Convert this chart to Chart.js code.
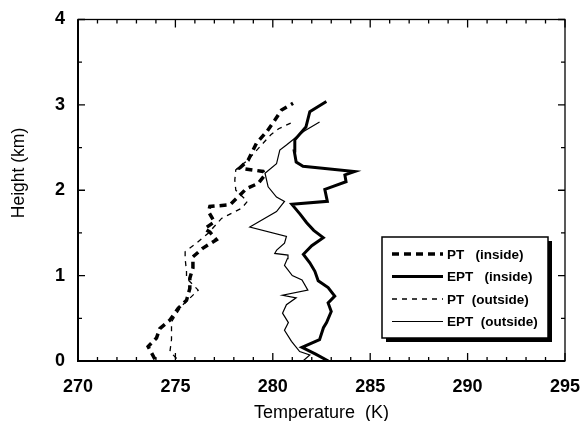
<!DOCTYPE html>
<html>
<head>
<meta charset="utf-8">
<script src="https://cdn.jsdelivr.net/npm/chart.js@4/dist/chart.umd.min.js"></script>
<style>
  body { margin: 0; background: #fff; }
  #wrap { width: 588px; height: 421px; }
</style>
</head>
<body>
<div id="wrap"><canvas id="profile" width="588" height="421"></canvas></div>
<script>
// Axis ranges / tick labels
var tempTicks = [270, 275, 280, 285, 290, 295];
var heightTicks = [0, 1, 2, 3, 4];

// PT (inside) - thick dashed
var ptInH = [0.02, 0.17, 0.27, 0.38, 0.48, 0.62, 0.71, 0.85, 0.97, 1.09, 1.22, 1.32, 1.42, 1.51, 1.55, 1.63, 1.75, 1.81, 1.83, 1.94, 2.02, 2.08, 2.18, 2.22, 2.26, 2.35, 2.43, 2.55, 2.69, 2.82, 2.94, 3.02];
var ptInT = [273.95, 273.6, 274.03, 274.2, 274.72, 275.15, 275.57, 275.74, 275.74, 275.9, 275.9, 276.4, 277.1, 276.77, 276.5, 277.0, 276.7, 276.77, 277.8, 278.3, 278.65, 279.25, 279.6, 279.5, 278.3, 278.73, 278.9, 279.16, 279.7, 280.1, 280.45, 281.04];

// EPT (inside) - thick solid
var eptInH = [0.0, 0.08, 0.16, 0.25, 0.39, 0.45, 0.58, 0.68, 0.76, 0.86, 0.94, 1.05, 1.15, 1.25, 1.35, 1.445, 1.53, 1.62, 1.72, 1.835, 1.87, 2.01, 2.1, 2.18, 2.22, 2.28, 2.33, 2.46, 2.59, 2.74, 2.92, 3.04];
var eptInT = [282.85, 282.2, 281.5, 282.4, 282.6, 282.76, 283.0, 282.84, 283.18, 282.84, 282.33, 282.16, 281.9, 281.57, 282.0, 282.59, 282.1, 281.74, 281.4, 280.98, 282.8, 282.67, 283.76, 283.7, 284.2, 281.55, 281.2, 281.1, 281.13, 281.7, 281.9, 282.75];

// PT (outside) - thin dashed
var ptOutH = [0.03, 0.11, 0.25, 0.46, 0.64, 0.83, 0.97, 1.05, 1.2, 1.28, 1.38, 1.5, 1.67, 1.79, 1.87, 2.0, 2.12, 2.24, 2.35, 2.45, 2.55, 2.65, 2.72, 2.8];
var ptOutT = [275.06, 274.72, 274.8, 274.8, 275.3, 276.17, 275.57, 275.57, 275.5, 275.5, 276.08, 276.7, 277.37, 278.4, 278.7, 278.1, 278.05, 278.1, 278.7, 279.1, 279.5, 279.9, 280.3, 281.04];

// EPT (outside) - thin solid
var eptOutH = [0.0, 0.07, 0.11, 0.23, 0.36, 0.45, 0.56, 0.66, 0.74, 0.77, 0.83, 0.95, 1.0, 1.12, 1.2, 1.24, 1.26, 1.3, 1.38, 1.46, 1.57, 1.75, 1.87, 1.92, 2.04, 2.2, 2.31, 2.47, 2.53, 2.61, 2.69, 2.8];
var eptOutT = [281.55, 281.9, 281.38, 280.96, 280.6, 280.8, 280.5, 280.7, 281.2, 280.5, 281.8, 281.5, 281.0, 280.6, 280.75, 280.78, 280.1, 280.2, 280.6, 280.7, 278.82, 280.19, 280.6, 280.19, 279.76, 279.6, 280.19, 280.36, 280.7, 281.13, 281.6, 282.4];

var seriesLabels = ['PT   (inside)', 'EPT   (inside)', 'PT  (outside)', 'EPT  (outside)'];
var yTitle = 'Height (km)';

var fontFamily = '"Liberation Sans", Arial, Helvetica, sans-serif';

function toPoints(temps, heights) {
    return temps.map(function(t, i) {
        return { x: t, y: heights[i] };
    });
}

/**
 * Frame with inward ticks, y title and boxed legend with shadow
 */
var frameAndLegend = {
    id: 'frameAndLegend',
    afterDatasetsDraw: function(chart) {
        var ctx = chart.ctx;
        var a = chart.chartArea;
        var xs = chart.scales.x;
        var ys = chart.scales.y;
        var v, px, len;

        ctx.save();
        ctx.strokeStyle = '#000';

        // frame
        ctx.lineWidth = 1.3;
        ctx.strokeRect(a.left, a.top, a.right - a.left, a.bottom - a.top);
        ctx.lineWidth = 2;
        ctx.beginPath();
        ctx.moveTo(a.left, a.top);
        ctx.lineTo(a.left, a.bottom);
        ctx.lineTo(a.right, a.bottom);
        ctx.stroke();

        // x ticks every 1 K, longer every 5 K
        ctx.lineWidth = 1.3;
        ctx.beginPath();
        for (v = xs.min; v <= xs.max; v++) {
            px = xs.getPixelForValue(v);
            len = (v % 5 === 0) ? 8 : 4;
            ctx.moveTo(px, a.bottom);
            ctx.lineTo(px, a.bottom - len);
            ctx.moveTo(px, a.top);
            ctx.lineTo(px, a.top + len);
        }
        // y ticks every 0.5 km
        for (v = ys.min; v <= ys.max; v += 0.5) {
            px = ys.getPixelForValue(v);
            len = (v % 1 === 0) ? 7 : 4;
            ctx.moveTo(a.left, px);
            ctx.lineTo(a.left + len, px);
            ctx.moveTo(a.right, px);
            ctx.lineTo(a.right - len, px);
        }
        ctx.stroke();

        // y axis title (sits a bit above the middle in the original)
        ctx.save();
        ctx.translate(19.5, 173);
        ctx.rotate(-Math.PI / 2);
        ctx.font = '17.5px ' + fontFamily;
        ctx.fillStyle = '#000';
        ctx.textAlign = 'center';
        ctx.textBaseline = 'middle';
        ctx.fillText(yTitle, 0, 0);
        ctx.restore();

        // legend box
        var bx = 382, by = 237, bw = 166, bh = 101;
        ctx.fillStyle = '#000';
        ctx.fillRect(bx + 4, by + 4, bw, bh);
        ctx.fillStyle = '#fff';
        ctx.fillRect(bx, by, bw, bh);
        ctx.lineWidth = 1.5;
        ctx.strokeRect(bx, by, bw, bh);

        ctx.font = 'bold 13.5px ' + fontFamily;
        ctx.textBaseline = 'middle';
        ctx.fillStyle = '#000';
        chart.data.datasets.forEach(function(ds, i) {
            var ly = by + 17 + i * 22.5;
            ctx.lineWidth = ds.borderWidth;
            ctx.setLineDash(ds.borderDash || []);
            ctx.beginPath();
            ctx.moveTo(bx + 10, ly);
            ctx.lineTo(bx + 61, ly);
            ctx.stroke();
            ctx.setLineDash([]);
            ctx.fillText(ds.label, bx + 65, ly + 1);
        });
        ctx.restore();
    }
};

new Chart(document.getElementById('profile'), {
    type: 'scatter',
    data: {
        datasets: [{
            label: seriesLabels[0],
            data: toPoints(ptInT, ptInH),
            borderColor: '#000',
            borderWidth: 3.5,
            borderDash: [7, 5]
        }, {
            label: seriesLabels[1],
            data: toPoints(eptInT, eptInH),
            borderColor: '#000',
            borderWidth: 3
        }, {
            label: seriesLabels[2],
            data: toPoints(ptOutT, ptOutH),
            borderColor: '#000',
            borderWidth: 1.3,
            borderDash: [5, 5]
        }, {
            label: seriesLabels[3],
            data: toPoints(eptOutT, eptOutH),
            borderColor: '#000',
            borderWidth: 1.2
        }]
    },
    options: {
        responsive: false,
        animation: false,
        showLine: true,
        elements: {
            point: { radius: 0 },
            line: { tension: 0, fill: false }
        },
        layout: {
            padding: { top: 19.5, right: 23, left: 0, bottom: 0 }
        },
        plugins: {
            legend: { display: false },
            tooltip: { enabled: false }
        },
        scales: {
            x: {
                type: 'linear',
                min: tempTicks[0],
                max: tempTicks[tempTicks.length - 1],
                grid: { display: false, drawTicks: false },
                border: { display: false },
                afterBuildTicks: function(scale) {
                    scale.ticks = tempTicks.map(function(v) { return { value: v }; });
                },
                afterFit: function(scale) {
                    // fixed box, end labels may hang over the edges
                    scale.height = 60;
                    scale.paddingLeft = 0;
                    scale.paddingRight = 0;
                },
                ticks: {
                    color: '#000',
                    padding: 15,
                    maxRotation: 0,
                    font: { family: fontFamily, size: 18, weight: 'bold' }
                },
                title: {
                    display: true,
                    text: 'Temperature  (K)',
                    color: '#000',
                    padding: { top: 0, bottom: -3 },
                    font: { family: fontFamily, size: 18 }
                }
            },
            y: {
                type: 'linear',
                min: heightTicks[0],
                max: heightTicks[heightTicks.length - 1],
                grid: { display: false, drawTicks: false },
                border: { display: false },
                afterBuildTicks: function(scale) {
                    scale.ticks = heightTicks.map(function(v) { return { value: v }; });
                },
                afterFit: function(scale) {
                    scale.width = 78;
                    scale.paddingTop = 0;
                    scale.paddingBottom = 0;
                },
                ticks: {
                    color: '#000',
                    padding: 13,
                    font: { family: fontFamily, size: 18, weight: 'bold' }
                }
            }
        }
    },
    plugins: [frameAndLegend]
});
</script>
</body>
</html>
